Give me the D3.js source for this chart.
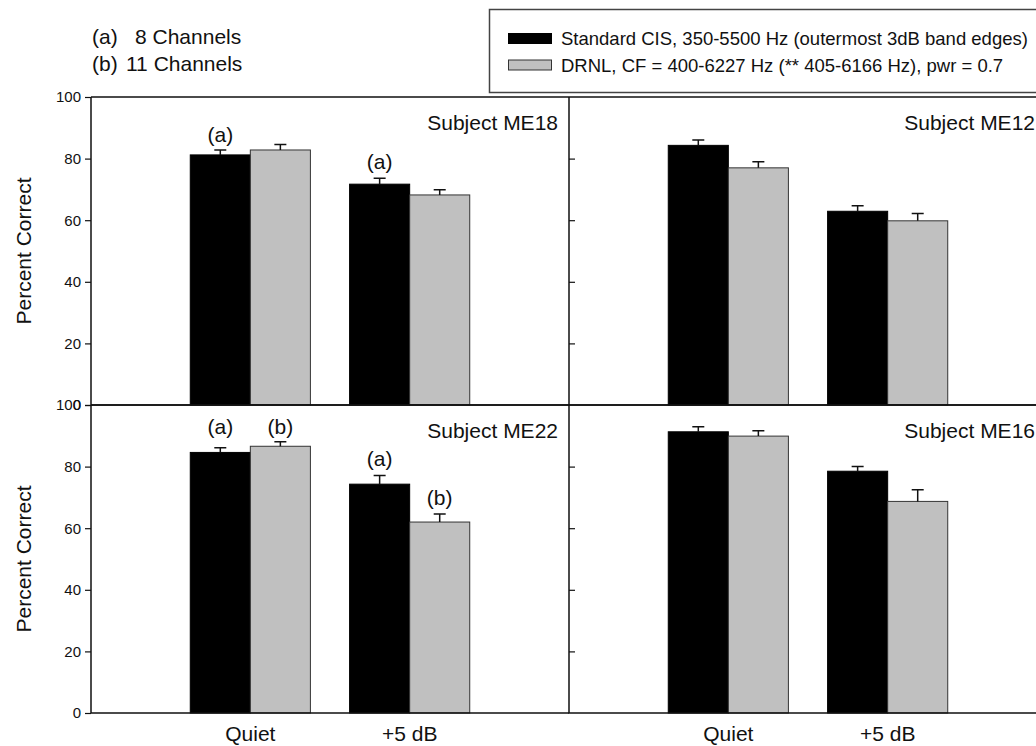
<!DOCTYPE html>
<html>
<head>
	<meta http-equiv="Content-Type" content="text/html;charset=utf-8">
	<title>Percent correct by subject</title>
	<script src="https://d3js.org/d3.v7.min.js"></script>
	<style type="text/css">
		body { margin: 0; background: #fff; }
		text { font-family: "Liberation Sans", Arial, sans-serif; fill: #111; }
		.frame { fill: none; stroke: #111; stroke-width: 1.5px; }
		.cis { fill: #000; stroke: #000; }
		.drnl { fill: #c0c0c0; stroke: #333; stroke-width: 1px; }
		.err { stroke: #111; stroke-width: 1.5px; fill: none; }
	</style>
</head>
<body>
	<svg width="1036" height="746"></svg>
	<script type='text/javascript'>
		// data
		const subjects = ['Subject ME18', 'Subject ME12', 'Subject ME22', 'Subject ME16'];
		const conditions = ['Quiet', '+5 dB'];
		const seriesNames = [
			'Standard CIS, 350-5500 Hz (outermost 3dB band edges)',
			'DRNL, CF = 400-6227 Hz (** 405-6166 Hz), pwr = 0.7'
		];
		const cisMeans = [[81.2, 71.7], [84.3, 62.9], [84.6, 74.3], [91.3, 78.5]];
		const cisErr = [[1.6, 1.9], [1.7, 1.8], [1.5, 2.8], [1.6, 1.5]];
		const drnlMeans = [[82.8, 68.2], [77.0, 59.8], [86.6, 62.0], [89.9, 68.7]];
		const drnlErr = [[1.8, 1.7], [2.0, 2.4], [1.5, 2.6], [1.7, 3.8]];
		const yTicks = [0, 20, 40, 60, 80, 100];
		// significance letters: panel, condition, series, text, level (percent)
		const notePanel = [0, 0, 2, 2, 2, 2];
		const noteCond = [0, 1, 0, 0, 1, 1];
		const noteSeries = [0, 0, 0, 1, 0, 1];
		const noteText = ['(a)', '(a)', '(a)', '(b)', '(a)', '(b)'];
		const noteLevel = [85.4, 76.6, 90.6, 90.6, 80.2, 67.5];
		const keyLines = ['(a)', '(b)'];
		const keyText = ['8 Channels', '11 Channels'];

		const svg = d3.select('svg');
		const colX = [91, 569];
		const rowY = [97, 405];
		const pw = 478, ph = 308;
		const fillClass = ['cis', 'drnl'];
		const means = [cisMeans, drnlMeans];
		const errs = [cisErr, drnlErr];
		const big = '21px';

		subjects.forEach((name, p) => {
			const col = p % 2, row = Math.floor(p / 2);
			const x0 = colX[col], y0 = rowY[row];
			const x = d3.scaleLinear().domain([0, 3]).range([x0, x0 + pw]);
			const y = d3.scaleLinear().domain([0, 100]).range([y0 + ph, y0]);
			const bw = x(0.377) - x(0);
			const g = svg.append('g');

			// bars
			[0, 1].forEach(s => {
				const recs = conditions.map((c, i) => ({ i, v: means[s][p][i], e: errs[s][p][i] }));
				const bx = d => x(d.i + 1) + (s === 0 ? -bw : 0);
				g.selectAll('rect.' + fillClass[s]).data(recs).enter()
					.append('rect')
					.attr('class', fillClass[s])
					.attr('x', bx)
					.attr('width', bw)
					.attr('y', d => y(d.v))
					.attr('height', d => y(0) - y(d.v));
				g.selectAll('path.err' + s).data(recs).enter()
					.append('path')
					.attr('class', 'err err' + s)
					.attr('d', d => {
						const cx = bx(d) + bw / 2;
						return `M${cx},${y(d.v)}V${y(d.v + d.e)}M${cx - 6},${y(d.v + d.e)}H${cx + 6}`;
					});
			});

			// frame
			g.append('path').attr('class', 'frame')
				.attr('d', `M${x0},${y0}H${x0 + pw}M${x0},${y0}V${y0 + ph}H${x0 + pw}`);

			// y axis ticks
			if (col === 0) {
				const ax = d3.axisLeft(y).tickValues(yTicks).tickSize(6).tickPadding(4);
				const a = svg.append('g').attr('transform', `translate(${x0},0)`).call(ax)
					.attr('font-size', 15).attr('font-family', '"Liberation Sans", Arial, sans-serif');
				a.select('.domain').remove();
				a.selectAll('line').attr('stroke', '#111').attr('stroke-width', 1.2);
				a.selectAll('text').style('font-size', '15px').attr('fill', '#111');
				svg.append('text')
					.attr('transform', `translate(31,${y0 + ph / 2}) rotate(-90)`)
					.attr('text-anchor', 'middle')
					.style('font-size', big)
					.text('Percent Correct');
			} else {
				const ax = d3.axisRight(y).tickValues(yTicks.slice(1, 5)).tickSize(6).tickFormat('');
				const a = svg.append('g').attr('transform', `translate(${x0},0)`).call(ax);
				a.select('.domain').remove();
				a.selectAll('line').attr('stroke', '#111').attr('stroke-width', 1.2);
			}

			// subject label
			g.append('text')
				.attr('x', x0 + pw - 11 - (col === 1 ? 1 : 0))
				.attr('y', y0 + 33)
				.attr('text-anchor', 'end')
				.style('font-size', big)
				.text(name);

			// condition labels under bottom row
			if (row === 1) {
				g.selectAll('text.cond').data(conditions).enter()
					.append('text')
					.attr('class', 'cond')
					.attr('x', (d, i) => x(i + 1))
					.attr('y', y0 + ph + 28)
					.attr('text-anchor', 'middle')
					.style('font-size', big)
					.text(d => d);
			}

			// significance letters
			noteText.forEach((t, k) => {
				if (notePanel[k] !== p) return;
				const cx = x(noteCond[k] + 1) + (noteSeries[k] === 0 ? -bw / 2 : bw / 2);
				g.append('text')
					.attr('x', cx)
					.attr('y', y(noteLevel[k]))
					.attr('text-anchor', 'middle')
					.style('font-size', big)
					.text(t);
			});
		});

		// channel key, top left
		keyLines.forEach((k, i) => {
			svg.append('text').attr('x', 92).attr('y', 44 + i * 27).style('font-size', big).text(k);
			svg.append('text').attr('x', i === 0 ? 135 : 126).attr('y', 44 + i * 27)
				.style('font-size', big).text(keyText[i]);
		});

		// legend
		const lg = svg.append('g');
		lg.append('rect').attr('x', 489.5).attr('y', 9.5).attr('width', 600).attr('height', 83)
			.attr('fill', 'none').attr('stroke', '#444').attr('stroke-width', 1.5);
		seriesNames.forEach((s, i) => {
			lg.append('rect').attr('class', fillClass[i])
				.attr('x', 508.5).attr('y', 33.5 + i * 26.5).attr('width', 43).attr('height', 10);
			lg.append('text').attr('x', 561).attr('y', 45 + i * 26.5)
				.style('font-size', '18.5px').text(s);
		});
	</script>
</body>
</html>
